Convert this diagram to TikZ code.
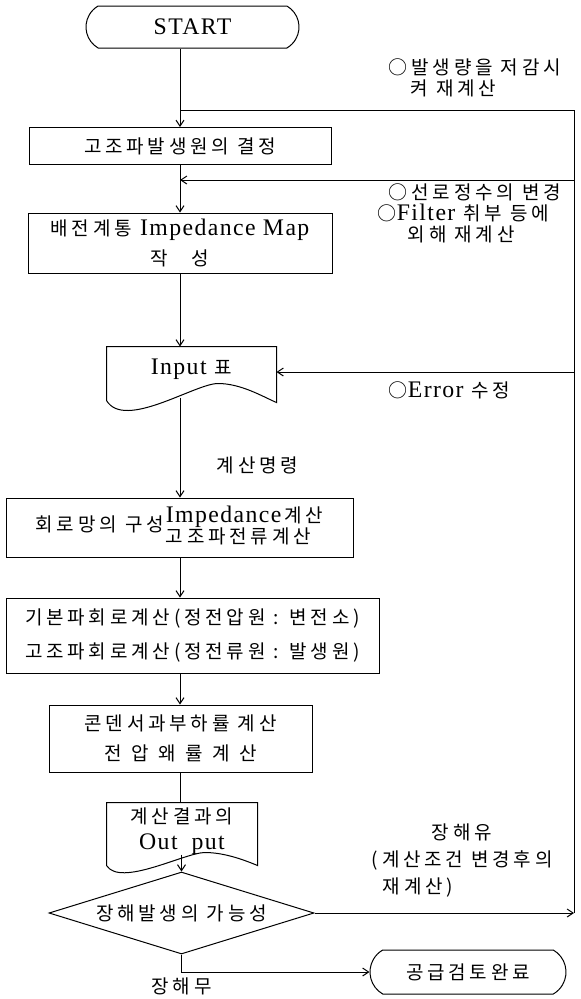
\documentclass[tikz,border=0pt]{standalone}
\usepackage{fontspec}
\setmainfont{Noto Sans CJK KR}[LetterSpace=20]
\newfontfamily\lat{Liberation Serif}[Scale=1.25, LetterSpace=6]
\usetikzlibrary{shapes.geometric, shapes.misc, arrows.meta, positioning, calc}

\begin{document}
\begin{tikzpicture}[
  x=1pt, y=-1pt,
  font=\fontsize{19}{26}\selectfont,
  line width=1pt,
  >={Straight Barb[length=6pt, width=8pt]},
  box/.style n args={2}{draw, inner sep=0pt, align=center,
                        minimum width=#1, minimum height=#2},
  term/.style n args={2}{box={#1}{#2}, rounded rectangle,
                         rounded rectangle arc length=120},
  doc/.style n args={2}{inner sep=0pt, align=center,
                        minimum width=#1, minimum height=#2},
  dec/.style n args={2}{draw, diamond, aspect=3.2, inner sep=0pt,
                        minimum width=#1, minimum height=#2},
  arr/.style={->},
  note/.style={align=left, anchor=west, font=\fontsize{19}{21}\selectfont},
]
\useasboundingbox (0,0) rectangle (581,999);

%% ---------- main column ----------------------------------------
\node[term={213pt}{42pt}] (start) at (192.5,27) {\lat START};
\node[box={302pt}{37pt}]  (hsrc)  at (180,146) {고조파발생원의 결정};
\node[box={304pt}{60pt}]  (imap)  at (180,243)
      {배전계통 {\lat Impedance Map}\\[4pt]작\hspace{24pt}성};
\node[doc={169pt}{45pt}]  (input) at (191.5,369.5) {{\lat Input} 표};
\node[box={347pt}{59pt}]  (calc)  at (179.5,527.5)
      {회로망의 구성\hspace{2pt}\renewcommand\arraystretch{0.7}%
       \begin{tabular}{@{}l@{}}{\lat Impedance}\,계산\\고조파전류계산\end{tabular}};
\node[box={373pt}{75pt}]  (circ)  at (192.5,635.5)
      {기본파회로계산(정전압원 : 변전소)\\[8pt]고조파회로계산(정전류원 : 발생원)};
\node[box={263pt}{67pt}]  (cond)  at (180.5,738.5)
      {콘덴서과부하률 계산\\[4pt]{\addfontfeature{LetterSpace=50}전압왜률계산}};
\node[doc={150pt}{56pt}]  (output) at (182,831)
      {계산결과의\\{\lat Out\hspace{14pt}put}};
\node[dec={265pt}{82pt}]  (fault) at (181.5,913) {장해발생의 가능성};
\node[term={196pt}{44pt}] (done)  at (468,972) {공급검토완료};

%% ---------- document outlines ----------------------------------
\draw (input.north west) -- (input.north east) -- ([yshift=-10pt]input.south east)
      .. controls +(-14pt,6pt) and +(23pt,0pt) .. ([xshift=26.5pt,yshift=9pt]input.south)
      .. controls +(-23pt,0pt) and +(18pt,-30pt) .. ([yshift=-8pt]input.south west)
      -- cycle;
\draw (output.north west) -- (output.north east) -- ([yshift=-6pt]output.south east)
      .. controls +(-12pt,5pt) and +(20pt,0pt) .. ([xshift=23pt,yshift=7pt]output.south)
      .. controls +(-20pt,0pt) and +(14pt,-22pt) .. ([yshift=-6pt]output.south west)
      -- cycle;

%% ---------- feedback line on the right -------------------------
\coordinate (rtop) at (574,110);
\coordinate (rmid) at (574,180);
\coordinate (rerr) at (574,372);

%% ---------- arrows ---------------------------------------------
\draw[arr] (start.south -| hsrc.north) -- (hsrc.north);
\draw[arr] (hsrc.south) -- (imap.north);
\draw[arr] (imap.south) -- (imap.south |- input.north);
\draw[arr] ([yshift=-5pt]input.south -| imap.south) --
      node[pos=0.68, right=33pt]{계산명령} (imap.south |- calc.north);
\draw[arr] (calc.south -| imap.south) -- (imap.south |- circ.north);
\draw[arr] (circ.south -| imap.south) -- (imap.south |- cond.north);
\draw      (cond.south -| imap.south) -- (imap.south |- output.north);
\draw[arr] ([yshift=5pt]output.south -| fault.north) -- (fault.north);
\draw[arr] (fault.south) |- node[pos=0.5, below=2pt]{장해무} (done.west);
\draw[arr] (fault.east) -- (fault.east -| rtop);
\draw      (fault.east -| rtop) -- (rtop) -- (rtop -| hsrc.north);
\draw[arr] (rmid) -- (rmid -| hsrc.south);
\draw[arr] (rerr) -- (rerr -| input.east);

%% ---------- notes ----------------------------------------------
\node[note] (n1) at (385,78) {○발생량을 저감시\\\hspace*{22pt}켜 재계산};
\node[note] (n2) at (374,213)
      {\hspace*{11pt}○선로정수의 변경\\○{\lat Filter} 취부 등에\\\hspace*{30pt}외해 재계산};
\node[note] (n3) at (385,390) {○{\lat Error} 수정};
\node[note, font=\fontsize{19}{27}\selectfont] (n4) at (368,860)
      {\hspace*{60pt}장해유\\(계산조건 변경후의\\\hspace*{11pt}재계산)};
\end{tikzpicture}
\end{document}
